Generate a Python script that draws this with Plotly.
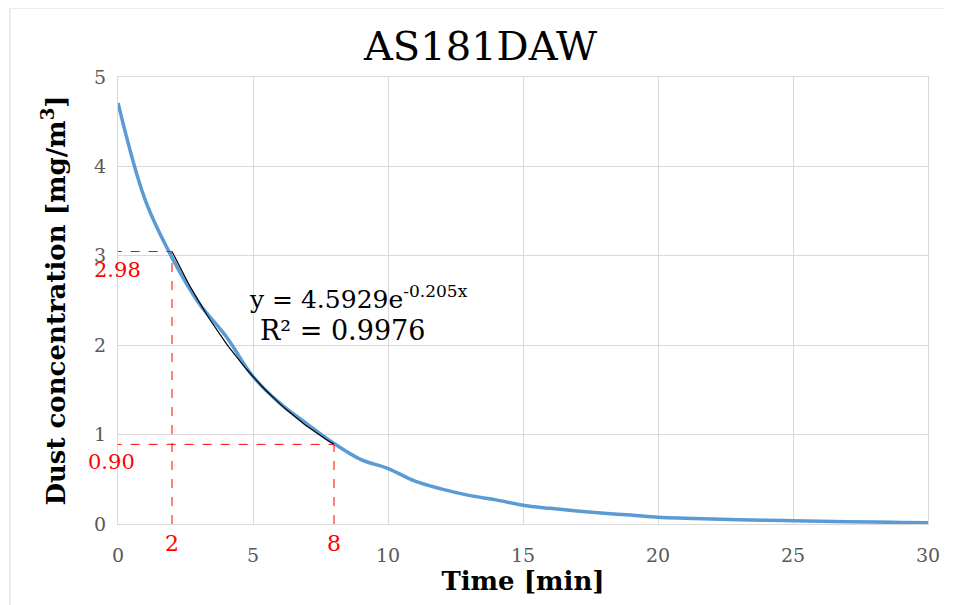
import math
import plotly.graph_objects as go

# ---- data ----
time_min = list(range(0, 31))
dust_conc = [4.71, 3.63, 2.98, 2.47, 2.10, 1.65, 1.35, 1.12, 0.90, 0.72, 0.62,
             0.48, 0.39, 0.32, 0.27, 0.21, 0.175, 0.145, 0.12, 0.10, 0.075,
             0.064, 0.056, 0.048, 0.041, 0.036, 0.030, 0.025, 0.021, 0.018, 0.015]

# exponential trendline shown on the chart: y = a * exp(b x)
trend_a = 4.5929
trend_b = -0.205
trend_r2 = 0.9976
trend_x = [2 + i * 0.1 for i in range(61)]  # fit range 2..8 min
trend_y = [trend_a * math.exp(trend_b * x) for x in trend_x]

mark_x = [2, 8]
mark_labels = ["2.98", "0.90"]
mark_y = [trend_a * math.exp(trend_b * x) for x in mark_x]

x_ticks = [0, 5, 10, 15, 20, 25, 30]
y_ticks = [0, 1, 2, 3, 4, 5]

SERIF = "DejaVu Serif"
GRID = "#d9d9d9"
RED = "#ff0000"

fig = go.Figure()
fig.add_trace(go.Scatter(x=time_min, y=dust_conc, mode="lines",
                         line=dict(color="#5b9bd5", width=3.5, shape="spline", smoothing=1.0),
                         showlegend=False, hoverinfo="x+y"))
fig.add_trace(go.Scatter(x=trend_x, y=trend_y, mode="lines",
                         line=dict(color="black", width=1.2),
                         showlegend=False, hoverinfo="skip"))

# red dashed guide lines
for mx, my in zip(mark_x, mark_y):
    fig.add_shape(type="line", xref="x", yref="y", x0=-0.2, x1=mx, y0=my, y1=my,
                  line=dict(color=RED, width=1, dash="dash"))
    fig.add_shape(type="line", xref="x", yref="y", x0=mx, x1=mx, y0=0, y1=my,
                  line=dict(color=RED, width=1, dash="dash"))

# red value labels
for i, (my, lab) in enumerate(zip(mark_y, mark_labels)):
    fig.add_annotation(x=0, y=my, xref="x", yref="y", text=lab, showarrow=False,
                       xanchor="center", yanchor="top", yshift=-4, xshift=-1 - 6 * i,
                       font=dict(family=SERIF, size=21, color=RED))
for mx in mark_x:
    fig.add_annotation(x=mx, y=0, xref="x", yref="paper", text=str(mx), showarrow=False,
                       xanchor="center", yanchor="middle", yshift=-19,
                       font=dict(family=SERIF, size=22, color=RED))

# trendline equation
fig.add_annotation(x=8.9, y=2.53, xref="x", yref="y",
                   text=f"y = {trend_a}e<sup><span style='font-size:17px'>{trend_b}x</span></sup>",
                   showarrow=False, xanchor="center", yanchor="middle",
                   font=dict(family=SERIF, size=25, color="black"))
fig.add_annotation(x=8.33, y=2.17, xref="x", yref="y",
                   text=f"R² = {trend_r2}", showarrow=False,
                   xanchor="center", yanchor="middle",
                   font=dict(family=SERIF, size=27, color="black"))

# outer chart border
fig.add_shape(type="rect", xref="paper", yref="paper",
              x0=(2 - 110) / 810, x1=(960 - 110) / 810,
              y0=(516 - 620) / 447, y1=(516 - 0) / 447,
              line=dict(color=GRID, width=1), layer="below")

fig.update_layout(
    width=945, height=597,
    margin=dict(l=110, r=25, t=69, b=81),
    paper_bgcolor="white", plot_bgcolor="white",
    title=dict(text="AS181DAW", x=0.5, xanchor="center", y=0.937, yanchor="middle",
               font=dict(family=SERIF, size=40, color="black")),
    xaxis=dict(range=[0, 30], tickvals=x_ticks, showgrid=True, gridcolor=GRID, gridwidth=1.3,
               showline=True, linecolor=GRID, linewidth=1.3, mirror=True, zeroline=False,
               ticks="", ticklabelstandoff=14,
               tickfont=dict(family=SERIF, size=19, color="#595959"),
               title=dict(text="<b>Time [min]</b>", standoff=1,
                          font=dict(family=SERIF, size=26, color="black"))),
    yaxis=dict(range=[0, 5], tickvals=y_ticks, showgrid=True, gridcolor=GRID, gridwidth=1.3,
               showline=True, linecolor=GRID, linewidth=1.3, mirror=True, zeroline=False,
               ticks="", ticklabelstandoff=7,
               tickfont=dict(family=SERIF, size=19, color="#595959"),
               title=dict(text="<b>Dust concentration [mg/m<sup>3</sup>]</b>", standoff=20,
                          font=dict(family=SERIF, size=26, color="black"))),
)

fig.write_html("out.html")
